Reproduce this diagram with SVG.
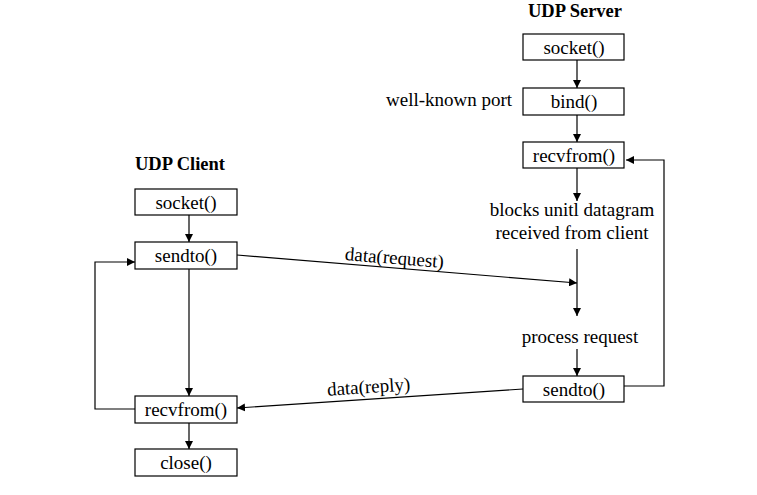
<svg xmlns="http://www.w3.org/2000/svg" width="757" height="495" viewBox="0 0 757 495">
<defs>
<marker id="ah" viewBox="0 0 10 10" refX="10" refY="5" markerWidth="8" markerHeight="8" markerUnits="userSpaceOnUse" orient="auto">
<path d="M0,0 L10,5 L0,10 z" fill="#000"/>
</marker>
</defs>
<style>
.box{fill:#fff;stroke:#000;stroke-width:1.2}
.lbl{font-family:"Liberation Serif","Times New Roman",serif;font-size:19px;fill:#000;text-anchor:middle}
.hdr{font-family:"Liberation Serif","Times New Roman",serif;font-size:18.5px;font-weight:bold;fill:#000}
.txt{font-family:"Liberation Serif","Times New Roman",serif;font-size:19px;fill:#000}
.ln{fill:none;stroke:#000;stroke-width:1.2}
.arr{fill:none;stroke:#000;stroke-width:1.2;marker-end:url(#ah)}
</style>
<rect width="757" height="495" fill="#fff"/>

<text class="hdr" x="528" y="17">UDP Server</text>
<text class="hdr" x="135" y="170">UDP Client</text>

<g id="connectors">
<line class="arr" x1="577" y1="60" x2="577" y2="88"/>
<line class="arr" x1="577" y1="115" x2="577" y2="142"/>
<line class="arr" x1="577" y1="168" x2="577" y2="201"/>
<line class="ln" x1="577" y1="249" x2="577" y2="300"/>
<line class="arr" x1="577" y1="300" x2="577" y2="316"/>
<line class="arr" x1="577" y1="349" x2="577" y2="376"/>
<polyline class="arr" points="624,386 664,386 664,160 626,160"/>
<line class="arr" x1="237" y1="255" x2="577" y2="283"/>
<line class="arr" x1="523" y1="389" x2="237" y2="408"/>
<line class="arr" x1="189" y1="215" x2="189" y2="242"/>
<line class="arr" x1="189" y1="269" x2="189" y2="396"/>
<line class="arr" x1="189" y1="423" x2="189" y2="449"/>
<polyline class="arr" points="135,409 95,409 95,262 135,262"/>
<text class="txt" text-anchor="middle" transform="translate(394,264) rotate(4.6)">data(request)</text>
<text class="txt" text-anchor="middle" transform="translate(369,393) rotate(-3.8)">data(reply)</text>
</g>

<g id="srv-socket"><rect class="box" x="523" y="34" width="101" height="26"/><text class="lbl" x="574" y="54">socket()</text></g>
<g id="srv-bind"><rect class="box" x="523" y="88" width="101" height="27"/><text class="lbl" x="574" y="108">bind()</text></g>
<g id="srv-recvfrom"><rect class="box" x="523" y="142" width="101" height="26"/><text class="lbl" x="574" y="162">recvfrom()</text></g>
<g id="srv-sendto"><rect class="box" x="523" y="376" width="101" height="26"/><text class="lbl" x="574" y="396">sendto()</text></g>

<g id="well-known-port"><text class="txt" x="386" y="106" font-size="17.5">well-known port</text></g>
<g id="blocks"><text class="txt" text-anchor="middle" x="572" y="216">blocks unitl datagram</text><text class="txt" text-anchor="middle" x="572" y="239">received from client</text></g>
<g id="process-request"><text class="txt" text-anchor="middle" x="580" y="343">process request</text></g>

<g id="cli-socket"><rect class="box" x="135" y="189" width="102" height="26"/><text class="lbl" x="186" y="209">socket()</text></g>
<g id="cli-sendto"><rect class="box" x="135" y="242" width="102" height="27"/><text class="lbl" x="186" y="262">sendto()</text></g>
<g id="cli-recvfrom"><rect class="box" x="135" y="396" width="102" height="27"/><text class="lbl" x="186" y="416">recvfrom()</text></g>
<g id="cli-close"><rect class="box" x="135" y="449" width="102" height="27"/><text class="lbl" x="186" y="469">close()</text></g>
</svg>
